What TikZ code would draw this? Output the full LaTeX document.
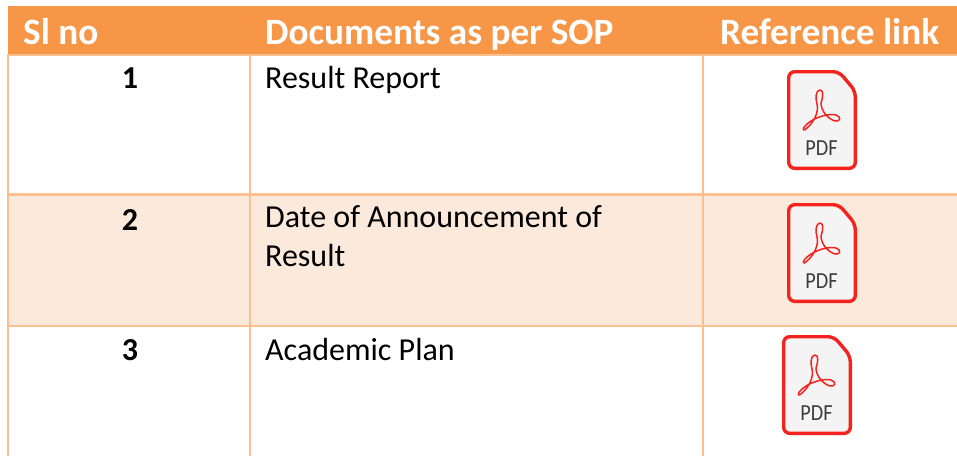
\documentclass[tikz,border=0pt]{standalone}
\usepackage{fontspec}
\setmainfont{Carlito}
\definecolor{headorange}{HTML}{F79646}
\definecolor{gridorange}{HTML}{FAC090}
\definecolor{bandorange}{HTML}{FBE9DB}
\definecolor{pdfred}{HTML}{F5231E}
\definecolor{pdfgrey}{HTML}{F4F4F4}
\definecolor{pdftext}{HTML}{3C3C3C}
\tikzset{
  headtext/.style={anchor=base west,inner sep=0pt,text=white,font=\fontsize{37.2}{37.2}\selectfont\bfseries},
  bodytext/.style={anchor=base west,inner sep=0pt,text=black,font=\fontsize{32}{32}\selectfont},
  numtext/.style={anchor=base,inner sep=0pt,text=black,font=\fontsize{32}{32}\selectfont\bfseries},
  gridline/.style={draw=gridorange,line width=2.2pt},
  pdflabel/.style={inner sep=0pt,text=pdftext,xscale=.88,font=\fontsize{23}{23}\selectfont}
}
\newcommand{\pdficon}[3]{%
  \begin{scope}[shift={(#1,#2)}]
    \draw[pdfred,line width=3.4pt,fill=pdfgrey,rounded corners=6pt]
      (1.7,1.7) -- (52,1.7) -- (68.3,21) -- (68.3,98.3) -- (1.7,98.3) -- cycle;
    \draw[pdfred,line width=1.5pt,line join=round]
      (33,20) .. controls (29,20) and (28,28) .. (30,34)
      .. controls (32,42) and (27,52) .. (20,58)
      .. controls (15,63) and (15,58) .. (20,54)
      .. controls (28,47) and (42,43) .. (49,45)
      .. controls (55,47) and (53,52) .. (48,51)
      .. controls (41,49) and (34,41) .. (34,33)
      .. controls (36,27) and (37,20) .. (33,20) -- cycle;
    \node[pdflabel] (#3) at (34.5,78.5) {PDF};
  \end{scope}%
}
\begin{document}
\begin{tikzpicture}[x=1pt,y=-1pt]
  \useasboundingbox (0,0) rectangle (957,456);
  \fill[white] (0,0) rectangle (957,456);
  \fill[headorange] (8,6) rectangle (957,54);
  \fill[bandorange] (8,195) rectangle (957,326);
  \draw[gridline] (7,55) -- (957,55);
  \draw[gridline] (7,194.5) -- (957,194.5);
  \draw[gridline] (7,326) -- (957,326);
  \draw[gridline] (8,54) -- (8,456);
  \draw[gridline] (250,54) -- (250,456);
  \draw[gridline] (703,54) -- (703,456);
  \node[headtext] (h1) at (23,44) {Sl no};
  \node[headtext] (h2) at (265,44) {Documents as per SOP};
  \node[headtext] (h3) at (720,44) {Reference link};
  \node[numtext] (n1) at (130,88) {1};
  \node[numtext] (n2) at (130,230) {2};
  \node[numtext] (n3) at (130,360) {3};
  \node[bodytext] (t1) at (265,88) {Result Report};
  \node[bodytext] (t2a) at (265,227) {Date of Announcement of};
  \node[bodytext] (t2b) at (265,266) {Result};
  \node[bodytext] (t3) at (265,360) {Academic Plan};
  \pdficon{787}{70}{p1}
  \pdficon{787}{203}{p2}
  \pdficon{782}{335}{p3}
\end{tikzpicture}
\end{document}
